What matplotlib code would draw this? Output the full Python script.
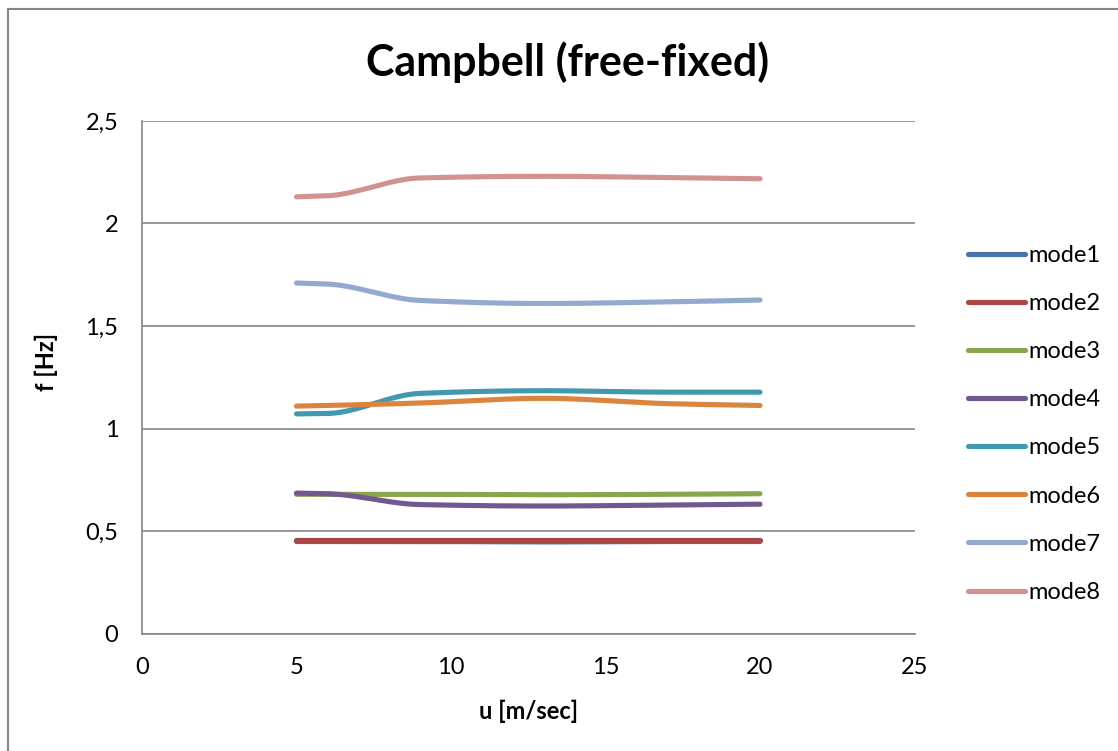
import numpy as np
import matplotlib.pyplot as plt
from matplotlib.patches import Rectangle

plt.rcParams['font.family'] = ['Lato', 'DejaVu Sans']

# wind speed samples
u = [5, 6, 9, 13, 17, 20]

mode1 = [0.450, 0.450, 0.450, 0.448, 0.450, 0.450]
mode2 = [0.455, 0.455, 0.455, 0.455, 0.455, 0.455]
mode3 = [0.680, 0.680, 0.680, 0.678, 0.680, 0.683]
mode4 = [0.686, 0.683, 0.630, 0.623, 0.628, 0.632]
mode5 = [1.072, 1.074, 1.172, 1.185, 1.178, 1.178]
mode6 = [1.110, 1.113, 1.125, 1.148, 1.122, 1.113]
mode7 = [1.710, 1.705, 1.625, 1.610, 1.618, 1.627]
mode8 = [2.130, 2.135, 2.222, 2.230, 2.224, 2.218]

labels = ['mode1', 'mode2', 'mode3', 'mode4', 'mode5', 'mode6', 'mode7', 'mode8']
colors = ['#4572A7', '#AA4643', '#89A54E', '#71588F', '#4198AF',
          '#DB843D', '#93A9CF', '#D19392']


def smooth(x, y, n=40):
    # monotone cubic (fritsch-carlson), close to excel "smoothed line"
    x = np.asarray(x, float)
    y = np.asarray(y, float)
    h = np.diff(x)
    d = np.diff(y) / h
    m = np.zeros_like(y)
    m[0], m[-1] = d[0], d[-1]
    for i in range(1, len(y) - 1):
        if d[i - 1] * d[i] <= 0:
            m[i] = 0
        else:
            w1 = 2 * h[i] + h[i - 1]
            w2 = h[i] + 2 * h[i - 1]
            m[i] = (w1 + w2) / (w1 / d[i - 1] + w2 / d[i])
    xs, ys = [], []
    t = np.linspace(0, 1, n)
    for i in range(len(h)):
        h00 = 2 * t ** 3 - 3 * t ** 2 + 1
        h10 = t ** 3 - 2 * t ** 2 + t
        h01 = -2 * t ** 3 + 3 * t ** 2
        h11 = t ** 3 - t ** 2
        xs.append(x[i] + t * h[i])
        ys.append(h00 * y[i] + h10 * h[i] * m[i] + h01 * y[i + 1] + h11 * h[i] * m[i + 1])
    return np.concatenate(xs), np.concatenate(ys)


fig = plt.figure(figsize=(11.18, 7.51), dpi=100)
ax = fig.add_axes([0.127, 0.156, 0.691, 0.683])

for data, lab, c in zip([mode1, mode2, mode3, mode4, mode5, mode6, mode7, mode8],
                        labels, colors):
    xs, ys = smooth(u, data)
    ax.plot(xs, ys, color=c, lw=3.7, label=lab, solid_capstyle='round')

ax.set_xlim(0, 25)
ax.set_ylim(0, 2.5)
ax.set_xticks([0, 5, 10, 15, 20, 25])
ax.set_yticks([0, 0.5, 1, 1.5, 2, 2.5])
ax.set_yticklabels(['0', '0,5', '1', '1,5', '2', '2,5'])
ax.tick_params(axis='x', length=0, labelsize=17, pad=17)
ax.tick_params(axis='y', length=0, labelsize=17, pad=17)
ax.yaxis.grid(True, color='#868686', lw=1.2)
ax.set_axisbelow(True)
for s in ['top', 'right']:
    ax.spines[s].set_visible(False)
for s in ['left', 'bottom']:
    ax.spines[s].set_color('#868686')
    ax.spines[s].set_linewidth(1.2)

ax.set_xlabel('u [m/sec]', fontsize=17, fontweight='bold')
ax.set_ylabel('f [Hz]', fontsize=17, fontweight='bold')
ax.xaxis.set_label_coords(0.5, -0.128)
ax.yaxis.set_label_coords(-0.109, 0.53)
fig.text(0.508, 0.917, 'Campbell (free-fixed)', ha='center', va='center',
         fontsize=31, fontweight='bold')

fig.legend(loc='upper left', bbox_to_anchor=(0.866, 0.674), frameon=False,
           fontsize=17, handlelength=2.4, handletextpad=0.15, labelspacing=1.15,
           borderpad=0, borderaxespad=0)

fig.patches.append(Rectangle((0.0072, -0.1), 1.2, 1.088, transform=fig.transFigure,
                             fill=False, edgecolor='#868686', lw=1.5))

fig.savefig('out.png', dpi=100)
